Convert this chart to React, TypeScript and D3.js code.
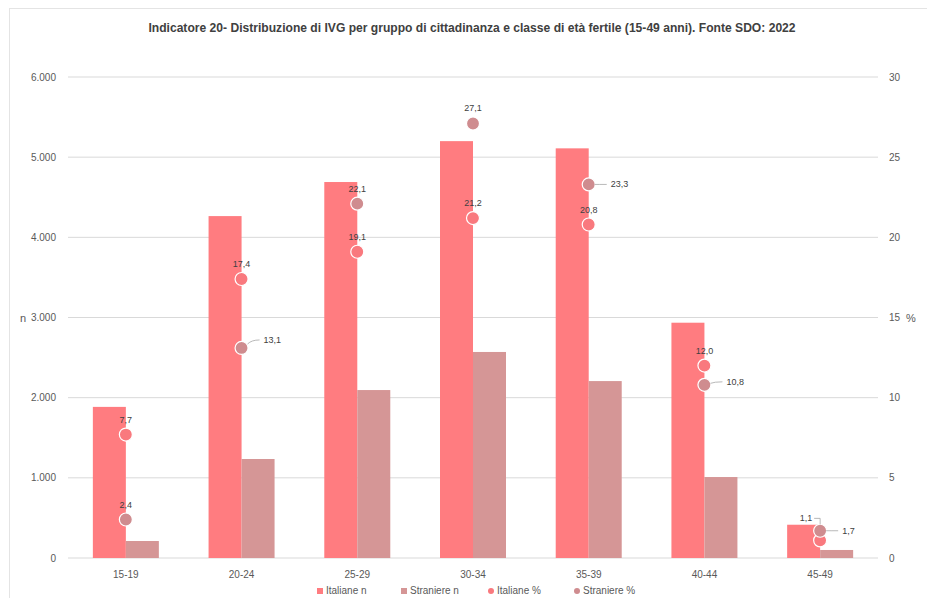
import React from "react";
import * as d3 from "d3";

const categories = ["15-19", "20-24", "25-29", "30-34", "35-39", "40-44", "45-49"];
const italianeN = [1885, 4265, 4690, 5200, 5110, 2935, 415];
const straniereN = [212, 1235, 2095, 2570, 2207, 1010, 100];
const italianePct = [7.7, 17.4, 19.1, 21.2, 20.8, 12.0, 1.1];
const stranierePct = [2.4, 13.1, 22.1, 27.1, 23.3, 10.8, 1.7];
const leftTicks = [0, 1000, 2000, 3000, 4000, 5000, 6000];
const rightTicks = [0, 5, 10, 15, 20, 25, 30];
const title =
  "Indicatore 20- Distribuzione di IVG per gruppo di cittadinanza e classe di età fertile (15-49 anni). Fonte SDO: 2022";

// label placement modes (not data)
const itaLabelMode = ["above", "above", "above", "above", "above", "above", "leftLeader"];
const strLabelMode = ["above", "right", "above", "above", "right", "right", "right"];

const C_ITA = "#FF7C80";
const C_STR = "#D59696";
const C_ITA_DOT = "#F9797E";
const C_STR_DOT = "#CF8C8F";
const GRID = "#D9D9D9";
const TXT = "#595959";
const LBL = "#404040";
const FONT = "'Liberation Sans', Arial, sans-serif";

const fmtN = (v: number) => (v === 0 ? "0" : d3.format(",")(v).replace(/,/g, "."));
const fmtP = (v: number) => v.toFixed(1).replace(".", ",");

export default function App() {
  const W = 927;
  const H = 598;
  const left = 68;
  const right = 878;
  const top = 77;
  const bottom = 558;

  const x0 = d3.scaleBand<string>().domain(categories).range([left, right]).padding(0);
  const barW = 33;
  const x1 = d3.scaleBand<string>().domain(["it", "st"]).range([-barW, barW]).padding(0);
  const yL = d3.scaleLinear().domain([0, 6000]).range([bottom, top]);
  const yR = d3.scaleLinear().domain([0, 30]).range([bottom, top]);
  const cx = (c: string) => (x0(c) ?? 0) + x0.bandwidth() / 2;

  return (
    <div style={{ position: "absolute", left: 0, top: 0 }}>
      <svg width={W} height={H} style={{ display: "block", background: "#fff" }}>
        <rect x={9.5} y={8.5} width={W} height={H} fill="#fff" stroke="#E4E4E4" />
        <text
          x={472}
          y={32}
          textAnchor="middle"
          fontFamily={FONT}
          fontWeight="bold"
          fontSize={12.1}
          fill={LBL}
        >
          {title}
        </text>

        {/* gridlines */}
        {leftTicks.map((t) => (
          <line key={"g" + t} x1={left} x2={right} y1={yL(t)} y2={yL(t)} stroke={GRID} strokeWidth={1} />
        ))}
        {/* left ticks */}
        {leftTicks.map((t) => (
          <text key={"l" + t} x={56} y={yL(t) + 3.5} textAnchor="end" fontFamily={FONT} fontSize={10} fill={TXT}>
            {fmtN(t)}
          </text>
        ))}
        {rightTicks.map((t) => (
          <text key={"r" + t} x={889} y={yR(t) + 3.5} textAnchor="start" fontFamily={FONT} fontSize={10} fill={TXT}>
            {t}
          </text>
        ))}
        <text x={23} y={yL(3000) + 4} textAnchor="middle" fontFamily={FONT} fontSize={11} fill={TXT}>
          n
        </text>
        <text x={911} y={yR(15) + 4} textAnchor="middle" fontFamily={FONT} fontSize={11} fill={TXT}>
          %
        </text>

        {/* bars */}
        {categories.map((c, i) => (
          <g key={"b" + c}>
            <rect
              x={cx(c) + (x1("it") ?? 0)}
              y={yL(italianeN[i])}
              width={x1.bandwidth()}
              height={bottom - yL(italianeN[i])}
              fill={C_ITA}
            />
            <rect
              x={cx(c) + (x1("st") ?? 0)}
              y={yL(straniereN[i])}
              width={x1.bandwidth()}
              height={bottom - yL(straniereN[i])}
              fill={C_STR}
            />
          </g>
        ))}

        {/* x labels */}
        {categories.map((c) => (
          <text key={"x" + c} x={cx(c)} y={578} textAnchor="middle" fontFamily={FONT} fontSize={10} fill={TXT}>
            {c}
          </text>
        ))}

        {/* dots */}
        {categories.map((c, i) => (
          <circle key={"di" + c} cx={cx(c)} cy={yR(italianePct[i])} r={6.5} fill={C_ITA_DOT} stroke="#fff" strokeWidth={1.2} />
        ))}
        {categories.map((c, i) => (
          <circle key={"ds" + c} cx={cx(c)} cy={yR(stranierePct[i])} r={6.5} fill={C_STR_DOT} stroke="#fff" strokeWidth={1.2} />
        ))}

        {/* Italiane labels */}
        {categories.map((c, i) => {
          const x = cx(c);
          const y = yR(italianePct[i]);
          if (itaLabelMode[i] === "above") {
            return (
              <text key={"li" + c} x={x} y={y - 12} textAnchor="middle" fontFamily={FONT} fontSize={9} fill={LBL}>
                {fmtP(italianePct[i])}
              </text>
            );
          }
          return (
            <g key={"li" + c}>
              <polyline
                points={`${x - 6},${y - 22} ${x},${y - 22} ${x},${y - 16}`}
                fill="none"
                stroke="#A6A6A6"
                strokeWidth={0.8}
              />
              <text x={x - 8} y={y - 19} textAnchor="end" fontFamily={FONT} fontSize={9} fill={LBL}>
                {fmtP(italianePct[i])}
              </text>
            </g>
          );
        })}

        {/* Straniere labels */}
        {categories.map((c, i) => {
          const x = cx(c);
          const y = yR(stranierePct[i]);
          if (strLabelMode[i] === "above") {
            return (
              <text key={"ls" + c} x={x} y={y - 12} textAnchor="middle" fontFamily={FONT} fontSize={9} fill={LBL}>
                {fmtP(stranierePct[i])}
              </text>
            );
          }
          const dy = i === 1 ? -8 : i === 5 ? -3 : 0;
          return (
            <g key={"ls" + c}>
              <path
                d={`M${x + 6},${y + dy / 2} Q${x + 10},${y + dy} ${x + 18},${y + dy}`}
                fill="none"
                stroke="#A6A6A6"
                strokeWidth={0.8}
              />
              <text x={x + 22} y={y + dy + 3} textAnchor="start" fontFamily={FONT} fontSize={9} fill={LBL}>
                {fmtP(stranierePct[i])}
              </text>
            </g>
          );
        })}

        {/* legend */}
        <g fontFamily={FONT} fontSize={10} fill={TXT}>
          <rect x={317} y={588} width={6} height={6} fill={C_ITA} />
          <text x={326} y={594}>Italiane n</text>
          <rect x={401} y={588} width={6} height={6} fill={C_STR} />
          <text x={410} y={594}>Straniere n</text>
          <circle cx={491} cy={591} r={3} fill={C_ITA_DOT} />
          <text x={497} y={594}>Italiane %</text>
          <circle cx={577} cy={591} r={3} fill={C_STR_DOT} />
          <text x={583} y={594}>Straniere %</text>
        </g>
      </svg>
    </div>
  );
}
